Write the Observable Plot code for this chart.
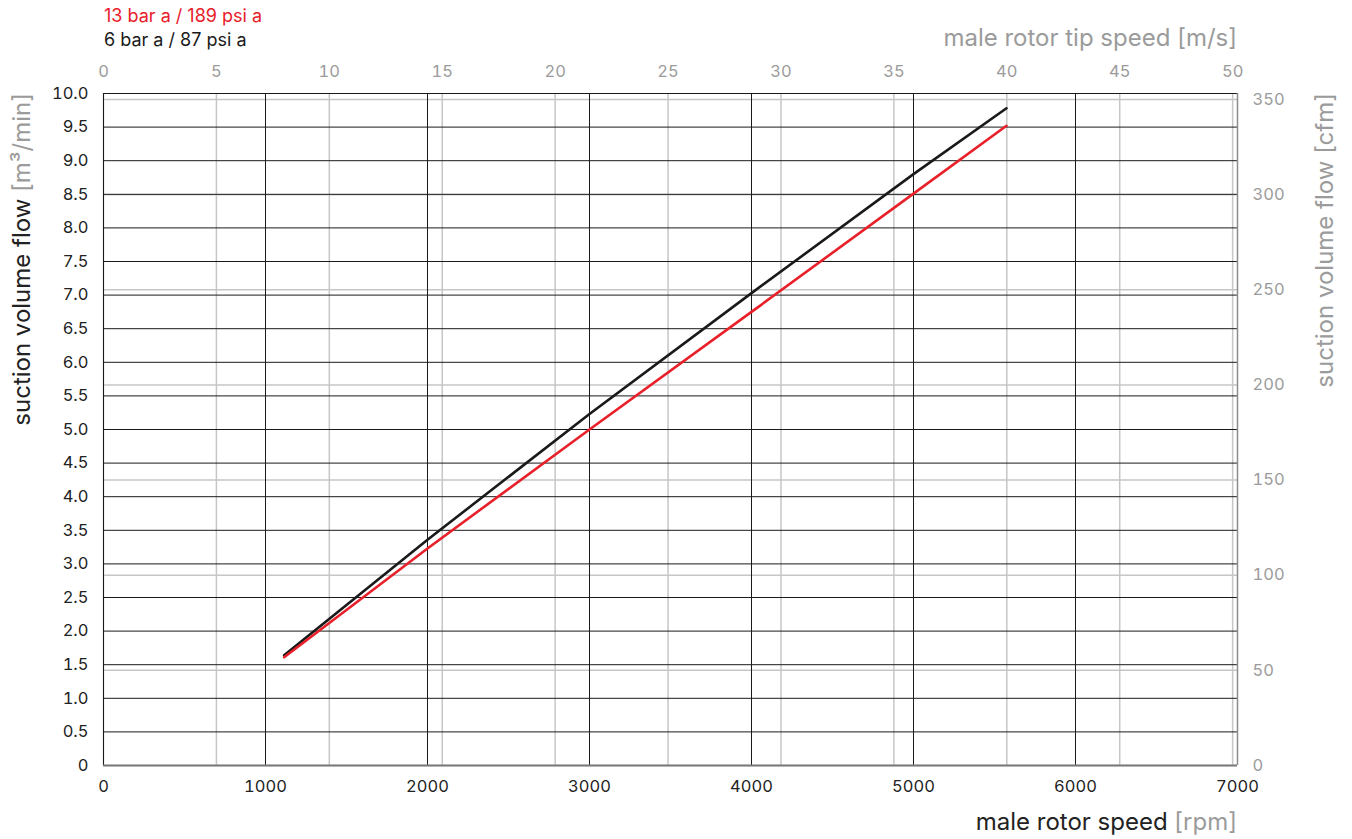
<!DOCTYPE html>
<html>
<head>
<meta charset="utf-8">
<script src="https://cdn.jsdelivr.net/npm/d3@7"></script>
<script src="https://cdn.jsdelivr.net/npm/@observablehq/plot@0.6"></script>
<style>
  html, body { margin: 0; padding: 0; background: #fff; }
  #chart { width: 1352px; height: 839px; }
</style>
</head>
<body>
<div id="chart"></div>
<script>
// ---- data ----
const rpmTicks = [0, 1000, 2000, 3000, 4000, 5000, 6000, 7000];
const flowTicks = [0, 0.5, 1.0, 1.5, 2.0, 2.5, 3.0, 3.5, 4.0, 4.5, 5.0, 5.5, 6.0, 6.5, 7.0, 7.5, 8.0, 8.5, 9.0, 9.5, 10.0];
const tipTicks = [0, 5, 10, 15, 20, 25, 30, 35, 40, 45, 50];
const cfmTicks = [0, 50, 100, 150, 200, 250, 300, 350];
const RPM_PER_MS = 139.4;        // male rotor speed per m/s tip speed
const CFM_PER_M3MIN = 35.3147;   // cfm per m³/min

const seriesRpm = [1115, 2000, 3000, 4000, 5000, 5574];
const flow6bar = [1.64, 3.36, 5.23, 7.03, 8.80, 9.78];
const flow13bar = [1.61, 3.23, 5.00, 6.75, 8.51, 9.52];

const legendLabels = ["13 bar a / 189 psi a", "6 bar a / 87 psi a"];
const legendColors = ["#e8202a", "#1a1a1a"];

const data6 = seriesRpm.map((r, i) => ({rpm: r, flow: flow6bar[i]}));
const data13 = seriesRpm.map((r, i) => ({rpm: r, flow: flow13bar[i]}));

const GREY = "#9b9b9b";
const FONT = "Inter, 'Liberation Sans', Arial, sans-serif";

const plot = Plot.plot({
  width: 1352,
  height: 839,
  marginLeft: 103,
  marginRight: 115,
  marginTop: 93,
  marginBottom: 74,
  style: {fontFamily: FONT, fontSize: "16px", background: "#fff", overflow: "visible"},
  x: {domain: [0, 7000]},
  y: {domain: [0, 10]},
  marks: [
    // secondary (grey) grid
    Plot.ruleX(tipTicks.map(t => t * RPM_PER_MS), {stroke: "#c6c6c6", strokeWidth: 1.5}),
    Plot.ruleY(cfmTicks.map(c => c / CFM_PER_M3MIN), {stroke: "#c6c6c6", strokeWidth: 1.5}),
    // primary (black) grid
    Plot.ruleX(rpmTicks.filter(d => d < 7000), {stroke: "#1a1a1a", strokeWidth: 1}),
    Plot.ruleY(flowTicks.filter(d => d > 0), {stroke: "#1a1a1a", strokeWidth: 1}),
    Plot.ruleX([7000], {stroke: "#8c8c8c", strokeWidth: 1.5}),
    Plot.ruleY([0], {stroke: "#7a7a7a", strokeWidth: 2}),
    // axes
    Plot.axisX(rpmTicks, {anchor: "bottom", tickSize: 0, tickPadding: 15, label: null,
      tickFormat: d => String(d), color: "#222", fontSize: 16.5}),
    Plot.axisX(tipTicks.map(t => t * RPM_PER_MS), {anchor: "top", tickSize: 0, tickPadding: 17, label: null,
      tickFormat: d => String(Math.round(d / RPM_PER_MS)), color: GREY, fontSize: 16.5}),
    Plot.axisY(flowTicks, {anchor: "left", tickSize: 0, tickPadding: 15, label: null,
      tickFormat: d => d === 0 ? "0" : d.toFixed(1), color: "#222", fontSize: 16.5}),
    Plot.axisY(cfmTicks.map(c => c / CFM_PER_M3MIN), {anchor: "right", tickSize: 0, tickPadding: 15, label: null,
      tickFormat: d => String(Math.round(d * CFM_PER_M3MIN)), color: GREY, fontSize: 16.5}),
    // curves
    Plot.line(data6, {x: "rpm", y: "flow", stroke: legendColors[1], strokeWidth: 2.6}),
    Plot.line(data13, {x: "rpm", y: "flow", stroke: legendColors[0], strokeWidth: 2.6})
  ]
});

document.getElementById("chart").appendChild(plot);

// ---- titles and legend ----
const svg = d3.select(plot);
const g = svg.append("g").attr("font-family", FONT).attr("text-anchor", "start");

// legend
legendLabels.forEach((lab, i) => {
  g.append("text").attr("x", 104).attr("y", 22 + i * 23.5).attr("text-anchor", "start")
    .attr("font-size", 18).attr("fill", legendColors[i]).text(lab);
});

// top axis title
g.append("text").attr("x", 1237).attr("y", 46).attr("text-anchor", "end")
  .attr("font-size", 24).attr("fill", GREY).text("male rotor tip speed [m/s]");

// bottom axis title
const bt = g.append("text").attr("x", 1237).attr("y", 830).attr("text-anchor", "end")
  .attr("font-size", 24).attr("fill", "#222");
bt.append("tspan").text("male rotor speed ");
bt.append("tspan").attr("fill", GREY).text("[rpm]");

// left axis title
const lt = g.append("text").attr("transform", "translate(30,93) rotate(-90)").attr("text-anchor", "end")
  .attr("font-size", 24).attr("fill", "#222");
lt.append("tspan").text("suction volume flow ");
lt.append("tspan").attr("fill", GREY).text("[m³/min]");

// right axis title
g.append("text").attr("transform", "translate(1333,93) rotate(-90)").attr("text-anchor", "end")
  .attr("font-size", 24).attr("fill", GREY).text("suction volume flow [cfm]");
</script>
</body>
</html>
